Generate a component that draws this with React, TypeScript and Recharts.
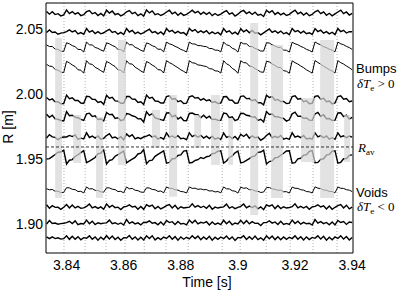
import { LineChart, Line, XAxis, YAxis, ReferenceArea, ReferenceLine } from 'recharts';

// sample times [s]
const time = [
  3.833, 3.834, 3.835, 3.836, 3.837, 3.838, 3.839, 3.84, 3.841, 3.842,
  3.843, 3.844, 3.845, 3.846, 3.847, 3.848, 3.849, 3.85, 3.851, 3.852,
  3.853, 3.854, 3.855, 3.856, 3.857, 3.858, 3.859, 3.86, 3.861, 3.862,
  3.863, 3.864, 3.865, 3.866, 3.867, 3.868, 3.869, 3.87, 3.871, 3.872,
  3.873, 3.874, 3.875, 3.876, 3.877, 3.878, 3.879, 3.88, 3.881, 3.882,
  3.883, 3.884, 3.885, 3.886, 3.887, 3.888, 3.889, 3.89, 3.891, 3.892,
  3.893, 3.894, 3.895, 3.896, 3.897, 3.898, 3.899, 3.9, 3.901, 3.902,
  3.903, 3.904, 3.905, 3.906, 3.907, 3.908, 3.909, 3.91, 3.911, 3.912,
  3.913, 3.914, 3.915, 3.916, 3.917, 3.918, 3.919, 3.92, 3.921, 3.922,
  3.923, 3.924, 3.925, 3.926, 3.927, 3.928, 3.929, 3.93, 3.931, 3.932,
  3.933, 3.934, 3.935, 3.936, 3.937, 3.938, 3.939, 3.94,
];

// channel positions R [m], outermost first
const r1 = [
  2.0639, 2.0618, 2.0637, 2.0615, 2.0622, 2.0605, 2.0613, 2.065, 2.0622, 2.0638,
  2.0619, 2.063, 2.0607, 2.0614, 2.0637, 2.0646, 2.0621, 2.063, 2.0607, 2.0624,
  2.0605, 2.0649, 2.0627, 2.0642, 2.0615, 2.0623, 2.0605, 2.0616, 2.0636, 2.0646,
  2.0622, 2.0632, 2.0607, 2.0621, 2.0603, 2.065, 2.0628, 2.0643, 2.0614, 2.0622,
  2.0608, 2.0619, 2.0635, 2.0648, 2.0621, 2.0634, 2.061, 2.0627, 2.0609, 2.0617,
  2.0631, 2.0649, 2.0628, 2.064, 2.0617, 2.0633, 2.0617, 2.0632, 2.0607, 2.0623,
  2.0608, 2.0619, 2.0633, 2.0645, 2.0618, 2.0628, 2.0604, 2.0618, 2.0637, 2.0647,
  2.0623, 2.0635, 2.0616, 2.0634, 2.061, 2.0617, 2.06, 2.0648, 2.063, 2.0645,
  2.0616, 2.0631, 2.0613, 2.0626, 2.0608, 2.0617, 2.0634, 2.0649, 2.0621, 2.0633,
  2.0611, 2.0628, 2.0606, 2.0616, 2.0636, 2.0648, 2.0622, 2.0636, 2.061, 2.0625,
  2.0605, 2.062, 2.0635, 2.0649, 2.0622, 2.0635, 2.0611, 2.0624,
];
const r2 = [
  2.0477, 2.0496, 2.0477, 2.0481, 2.0464, 2.0472, 2.0476, 2.0484, 2.0497, 2.0481,
  2.0492, 2.0466, 2.0476, 2.0463, 2.0508, 2.048, 2.0492, 2.0469, 2.0483, 2.0467,
  2.0475, 2.0489, 2.0501, 2.0477, 2.0485, 2.0464, 2.0478, 2.0462, 2.0508, 2.0481,
  2.0494, 2.0469, 2.048, 2.0465, 2.0476, 2.049, 2.0502, 2.0476, 2.0484, 2.0467,
  2.0481, 2.0461, 2.0507, 2.0483, 2.0493, 2.0472, 2.0486, 2.0471, 2.0476, 2.0457,
  2.0508, 2.0487, 2.0499, 2.0476, 2.0489, 2.0476, 2.0491, 2.0466, 2.0482, 2.0467,
  2.0478, 2.0459, 2.0507, 2.048, 2.049, 2.0466, 2.048, 2.0463, 2.0506, 2.0482,
  2.0497, 2.0475, 2.0493, 2.0472, 2.0476, 2.0459, 2.0474, 2.0489, 2.0504, 2.0478,
  2.049, 2.0472, 2.0488, 2.0467, 2.0476, 2.046, 2.0508, 2.0483, 2.0492, 2.0473,
  2.0487, 2.0468, 2.0475, 2.0462, 2.0507, 2.0484, 2.0495, 2.0472, 2.0484, 2.0467,
  2.0479, 2.0461, 2.0508, 2.0484, 2.0494, 2.0473, 2.0483, 2.0483,
];
const r3 = [
  2.0381, 2.0369, 2.0369, 2.0349, 2.0347, 2.0333, 2.0332, 2.0398, 2.039, 2.0376,
  2.0368, 2.0347, 2.0346, 2.0327, 2.0403, 2.0382, 2.0381, 2.0362, 2.0355, 2.0342,
  2.0333, 2.0397, 2.039, 2.0377, 2.0368, 2.0347, 2.0346, 2.0328, 2.0403, 2.0383,
  2.0383, 2.0363, 2.0354, 2.034, 2.0332, 2.0397, 2.0389, 2.0375, 2.0367, 2.0348,
  2.0348, 2.0328, 2.0403, 2.039, 2.0383, 2.037, 2.0361, 2.0347, 2.0339, 2.0327,
  2.0403, 2.0389, 2.0388, 2.0376, 2.0376, 2.037, 2.0368, 2.0354, 2.0353, 2.0341,
  2.0341, 2.0328, 2.0403, 2.0383, 2.0376, 2.0356, 2.0347, 2.0326, 2.0402, 2.039,
  2.039, 2.037, 2.0368, 2.0354, 2.0346, 2.0334, 2.0334, 2.0398, 2.0396, 2.0382,
  2.0374, 2.0362, 2.0362, 2.0342, 2.034, 2.0326, 2.0402, 2.039, 2.0383, 2.037,
  2.0361, 2.0347, 2.0339, 2.0327, 2.0404, 2.0391, 2.0382, 2.0368, 2.036, 2.0348,
  2.0341, 2.0328, 2.0403, 2.039, 2.0383, 2.037, 2.0361, 2.0347,
];
const r4 = [
  2.0232, 2.0218, 2.0216, 2.0192, 2.0188, 2.0172, 2.0169, 2.0255, 2.0243, 2.0227,
  2.0215, 2.019, 2.0187, 2.0164, 2.026, 2.0235, 2.0232, 2.0209, 2.0198, 2.0183,
  2.017, 2.0254, 2.0243, 2.0228, 2.0215, 2.019, 2.0187, 2.0165, 2.026, 2.0236,
  2.0234, 2.021, 2.0197, 2.0181, 2.0169, 2.0254, 2.0242, 2.0226, 2.0214, 2.0191,
  2.0189, 2.0165, 2.026, 2.0245, 2.0234, 2.0219, 2.0206, 2.019, 2.0178, 2.0164,
  2.026, 2.0244, 2.0241, 2.0227, 2.0225, 2.0219, 2.0215, 2.0199, 2.0196, 2.0182,
  2.018, 2.0165, 2.026, 2.0236, 2.0225, 2.0201, 2.0188, 2.0163, 2.0259, 2.0245,
  2.0243, 2.0219, 2.0215, 2.0199, 2.0187, 2.0173, 2.0171, 2.0255, 2.0251, 2.0235,
  2.0223, 2.0209, 2.0207, 2.0183, 2.0179, 2.0163, 2.0259, 2.0245, 2.0234, 2.0219,
  2.0206, 2.019, 2.0178, 2.0164, 2.0261, 2.0246, 2.0233, 2.0217, 2.0205, 2.0191,
  2.018, 2.0165, 2.026, 2.0245, 2.0234, 2.0219, 2.0206, 2.019,
];
const r5 = [
  1.9976, 1.9957, 1.9966, 1.9943, 1.9944, 1.9928, 1.993, 1.9995, 1.9968, 1.9975,
  1.9954, 1.9954, 1.9934, 1.9931, 1.9986, 1.9984, 1.9963, 1.9962, 1.9938, 1.9946,
  1.9924, 1.9994, 1.9971, 1.9978, 1.9951, 1.9949, 1.9932, 1.9932, 1.9985, 1.9984,
  1.9964, 1.9963, 1.9938, 1.9944, 1.9923, 1.9995, 1.9972, 1.9978, 1.995, 1.9948,
  1.9934, 1.9934, 1.9984, 1.999, 1.9963, 1.9968, 1.9944, 1.9952, 1.9931, 1.9933,
  1.9982, 1.999, 1.9972, 1.9976, 1.9956, 1.9968, 1.9952, 1.9959, 1.9938, 1.9945,
  1.993, 1.9934, 1.9983, 1.9984, 1.9957, 1.9956, 1.9932, 1.9934, 1.9986, 1.9989,
  1.9968, 1.9969, 1.9952, 1.996, 1.9936, 1.9937, 1.9921, 1.9994, 1.9977, 1.9984,
  1.9956, 1.9962, 1.9946, 1.9947, 1.993, 1.9933, 1.9984, 1.999, 1.9963, 1.9968,
  1.9944, 1.9952, 1.9929, 1.9932, 1.9985, 1.999, 1.9964, 1.997, 1.9944, 1.995,
  1.9928, 1.9935, 1.9984, 1.999, 1.9964, 1.9969, 1.9944, 1.995,
];
const r6 = [
  1.9848, 1.9824, 1.984, 1.9812, 1.9809, 1.98, 1.9797, 1.9869, 1.9837, 1.984,
  1.9826, 1.9821, 1.9808, 1.98, 1.9851, 1.9856, 1.983, 1.9836, 1.9807, 1.9811,
  1.9796, 1.9861, 1.9845, 1.9847, 1.9816, 1.9821, 1.9799, 1.9806, 1.9854, 1.9849,
  1.9836, 1.983, 1.9812, 1.9813, 1.9788, 1.9867, 1.9839, 1.9852, 1.9819, 1.9813,
  1.9806, 1.9801, 1.9858, 1.9859, 1.9828, 1.984, 1.9811, 1.9826, 1.98, 1.9798,
  1.9854, 1.9857, 1.9846, 1.9845, 1.9821, 1.984, 1.9819, 1.9833, 1.9807, 1.981,
  1.9802, 1.9801, 1.9857, 1.9853, 1.9822, 1.9828, 1.9799, 1.9808, 1.9855, 1.9854,
  1.984, 1.9836, 1.9826, 1.9829, 1.9801, 1.9809, 1.9788, 1.9868, 1.9846, 1.9849,
  1.9828, 1.9829, 1.982, 1.9816, 1.9795, 1.9805, 1.9851, 1.9864, 1.9832, 1.9833,
  1.9816, 1.9819, 1.9803, 1.9801, 1.985, 1.9862, 1.9831, 1.9844, 1.9813, 1.9815,
  1.98, 1.9802, 1.9858, 1.9859, 1.9829, 1.9841, 1.9811, 1.9824,
];
const r7 = [
  1.9665, 1.9691, 1.9674, 1.967, 1.9652, 1.9667, 1.9673, 1.9673, 1.9685, 1.9676,
  1.9689, 1.9655, 1.9664, 1.9658, 1.9705, 1.9669, 1.968, 1.9664, 1.968, 1.9656,
  1.9663, 1.9684, 1.9698, 1.9666, 1.9673, 1.9659, 1.9675, 1.9651, 1.9696, 1.9676,
  1.9691, 1.9658, 1.9668, 1.966, 1.9673, 1.9679, 1.969, 1.9671, 1.9681, 1.9656,
  1.9669, 1.9656, 1.9704, 1.9672, 1.9681, 1.9667, 1.9683, 1.966, 1.9664, 1.9652,
  1.9705, 1.9676, 1.9687, 1.9671, 1.9686, 1.9665, 1.9679, 1.9661, 1.9679, 1.9656,
  1.9666, 1.9654, 1.9704, 1.9669, 1.9678, 1.9661, 1.9677, 1.9652, 1.9694, 1.9677,
  1.9694, 1.9664, 1.9681, 1.9667, 1.9673, 1.9648, 1.9662, 1.9684, 1.9701, 1.9667,
  1.9678, 1.9667, 1.9685, 1.9656, 1.9664, 1.9655, 1.9705, 1.9672, 1.968, 1.9668,
  1.9684, 1.9657, 1.9663, 1.9657, 1.9704, 1.9673, 1.9683, 1.9667, 1.9681, 1.9656,
  1.9667, 1.9656, 1.9705, 1.9673, 1.9682, 1.9668, 1.968, 1.9672,
];
const r8 = [
  1.9503, 1.9506, 1.9522, 1.9538, 1.9555, 1.9557, 1.9571, 1.9465, 1.9494, 1.9499,
  1.9523, 1.9536, 1.9552, 1.9568, 1.9475, 1.9487, 1.9501, 1.9515, 1.9544, 1.9549,
  1.9573, 1.9466, 1.9492, 1.9498, 1.9525, 1.9537, 1.9551, 1.9565, 1.9474, 1.9489,
  1.9503, 1.9516, 1.9542, 1.9548, 1.9575, 1.9467, 1.9491, 1.9495, 1.9524, 1.9539,
  1.9553, 1.9566, 1.9472, 1.9478, 1.9505, 1.9507, 1.9531, 1.9535, 1.9564, 1.9569,
  1.9473, 1.9476, 1.9492, 1.9498, 1.9515, 1.9507, 1.9521, 1.9525, 1.9544, 1.9549,
  1.9563, 1.9566, 1.9472, 1.9488, 1.9515, 1.9527, 1.9551, 1.9565, 1.9474, 1.9479,
  1.9493, 1.9506, 1.9522, 1.9528, 1.9555, 1.9557, 1.9571, 1.9465, 1.9484, 1.9489,
  1.9513, 1.9516, 1.9532, 1.9548, 1.9565, 1.9567, 1.9471, 1.9475, 1.9504, 1.9509,
  1.9533, 1.9536, 1.9562, 1.9568, 1.9475, 1.9477, 1.9501, 1.9505, 1.9534, 1.9539,
  1.9563, 1.9566, 1.9472, 1.9478, 1.9505, 1.9507, 1.9531, 1.9535,
];
const r9 = [
  1.9275, 1.9266, 1.9269, 1.9255, 1.9256, 1.9245, 1.9247, 1.9283, 1.9281, 1.927,
  1.9268, 1.9253, 1.9255, 1.9242, 1.9288, 1.9273, 1.9275, 1.9262, 1.9261, 1.9251,
  1.9248, 1.9282, 1.9281, 1.9271, 1.9268, 1.9253, 1.9255, 1.9243, 1.9288, 1.9274,
  1.9277, 1.9263, 1.926, 1.9249, 1.9247, 1.9282, 1.928, 1.9269, 1.9267, 1.9254,
  1.9257, 1.9243, 1.9288, 1.9278, 1.9277, 1.9267, 1.9264, 1.9253, 1.9251, 1.9242,
  1.9288, 1.9277, 1.9279, 1.927, 1.9273, 1.9267, 1.9268, 1.9257, 1.9259, 1.925,
  1.9253, 1.9243, 1.9288, 1.9274, 1.9273, 1.9259, 1.9256, 1.9241, 1.9287, 1.9278,
  1.9281, 1.9267, 1.9268, 1.9257, 1.9255, 1.9246, 1.9249, 1.9283, 1.9284, 1.9273,
  1.9271, 1.9262, 1.9265, 1.9251, 1.9252, 1.9241, 1.9287, 1.9278, 1.9277, 1.9267,
  1.9264, 1.9253, 1.9251, 1.9242, 1.9289, 1.9279, 1.9276, 1.9265, 1.9263, 1.9254,
  1.9253, 1.9243, 1.9288, 1.9278, 1.9277, 1.9267, 1.9264, 1.9253,
];
const r10 = [
  1.9151, 1.9125, 1.9144, 1.9131, 1.9133, 1.9116, 1.9132, 1.9153, 1.9126, 1.915,
  1.9127, 1.9139, 1.9124, 1.9127, 1.9139, 1.9157, 1.9127, 1.9137, 1.9123, 1.9135,
  1.9117, 1.9158, 1.9132, 1.9147, 1.9129, 1.9133, 1.9115, 1.9135, 1.9139, 1.915,
  1.9134, 1.914, 1.9116, 1.9138, 1.9116, 1.9152, 1.9139, 1.9149, 1.9121, 1.9138,
  1.9119, 1.9131, 1.9144, 1.9152, 1.9126, 1.9147, 1.9119, 1.9136, 1.9127, 1.913,
  1.9133, 1.9159, 1.9133, 1.9145, 1.913, 1.914, 1.9124, 1.9147, 1.9117, 1.9133,
  1.9126, 1.9132, 1.9135, 1.9156, 1.9125, 1.9136, 1.9121, 1.9131, 1.9139, 1.9157,
  1.9128, 1.9141, 1.913, 1.9143, 1.912, 1.9135, 1.9113, 1.915, 1.914, 1.915,
  1.9122, 1.9145, 1.9122, 1.9136, 1.9126, 1.913, 1.9136, 1.9159, 1.9127, 1.9139,
  1.9126, 1.9138, 1.9117, 1.9135, 1.9139, 1.9151, 1.9134, 1.9143, 1.9118, 1.9141,
  1.9117, 1.9132, 1.9144, 1.9153, 1.9127, 1.9148, 1.912, 1.9133,
];
const r11 = [
  1.9003, 1.903, 1.9007, 1.9011, 1.9002, 1.9006, 1.9009, 1.9014, 1.9024, 1.9007,
  1.9027, 1.8998, 1.9007, 1.9003, 1.9033, 1.9005, 1.9025, 1.8999, 1.9013, 1.9005,
  1.901, 1.9012, 1.9033, 1.9005, 1.9013, 1.9001, 1.9011, 1.8995, 1.9038, 1.9008,
  1.902, 1.9004, 1.9012, 1.8996, 1.9016, 1.9015, 1.9027, 1.9009, 1.9014, 1.8997,
  1.9019, 1.8996, 1.903, 1.9014, 1.9021, 1.8999, 1.9022, 1.9003, 1.9008, 1.8997,
  1.9033, 1.9011, 1.9031, 1.9004, 1.9016, 1.901, 1.9021, 1.8995, 1.9019, 1.9,
  1.901, 1.8999, 1.9032, 1.9005, 1.9024, 1.8997, 1.9011, 1.9003, 1.9031, 1.9006,
  1.9029, 1.9004, 1.9021, 1.9008, 1.9009, 1.8991, 1.9014, 1.9014, 1.9028, 1.901,
  1.9019, 1.9, 1.9024, 1.9, 1.9008, 1.9, 1.9033, 1.9007, 1.9025, 1.9002,
  1.9016, 1.9005, 1.9009, 1.8995, 1.9037, 1.901, 1.9021, 1.9006, 1.9015, 1.8997,
  1.9018, 1.8996, 1.9031, 1.9015, 1.9022, 1.9, 1.9019, 1.9015,
];
const r12 = [
  1.8904, 1.889, 1.8904, 1.8891, 1.8897, 1.8887, 1.889, 1.8912, 1.8885, 1.8908,
  1.8886, 1.8906, 1.8882, 1.8898, 1.8894, 1.8912, 1.8886, 1.8904, 1.8878, 1.8902,
  1.8884, 1.8913, 1.8888, 1.891, 1.8884, 1.8901, 1.8878, 1.8898, 1.8895, 1.8914,
  1.8885, 1.8904, 1.888, 1.8901, 1.888, 1.8912, 1.8891, 1.8913, 1.8881, 1.8898,
  1.8883, 1.8903, 1.8892, 1.8912, 1.8886, 1.8906, 1.8879, 1.8903, 1.8886, 1.8901,
  1.8888, 1.8913, 1.8891, 1.891, 1.8882, 1.8903, 1.8886, 1.8908, 1.8878, 1.8901,
  1.8885, 1.8903, 1.889, 1.8911, 1.8885, 1.8904, 1.8877, 1.89, 1.8896, 1.8913,
  1.8884, 1.8905, 1.8885, 1.891, 1.8883, 1.8897, 1.8879, 1.8912, 1.8889, 1.8911,
  1.8883, 1.8905, 1.8882, 1.8904, 1.8885, 1.8901, 1.8891, 1.8913, 1.8886, 1.8905,
  1.888, 1.8904, 1.8883, 1.89, 1.8893, 1.8912, 1.8887, 1.8908, 1.8879, 1.8901,
  1.8882, 1.8904, 1.8892, 1.8913, 1.8887, 1.8907, 1.888, 1.89,
];

const channels = [r1, r2, r3, r4, r5, r6, r7, r8, r9, r10, r11, r12];
const thinChannels = [2, 3, 8];

// sawtooth crash times (dotted lines)
const crashTimes = [
  3.8391, 3.8465, 3.8538, 3.8605, 3.8672, 3.8748, 3.8826, 3.8945, 3.9008, 3.9099,
  3.9183, 3.9263, 3.9347,
];

// shaded bump / void windows
const bandStart = [3.836, 3.8423, 3.8503, 3.858, 3.8699, 3.8759, 3.8847, 3.8906, 3.8966, 3.9043, 3.9116, 3.9221, 3.9288, 3.9372];
const bandEnd = [3.8384, 3.8451, 3.8528, 3.8608, 3.8727, 3.8787, 3.8871, 3.8937, 3.8983, 3.9071, 3.9158, 3.927, 3.9337, 3.9393];
const bandLow = [1.9204, 1.9473, 1.9204, 1.9458, 1.9588, 1.9212, 1.9588, 1.9458, 1.9458, 1.9073, 1.9204, 1.9481, 1.9204, 1.9481];
const bandHigh = [2.0435, 1.9842, 1.9827, 2.0419, 1.9881, 1.9996, 1.9842, 1.9996, 1.9819, 2.055, 2.0381, 1.9973, 2.0419, 1.9842];

const xTicks = [3.84, 3.86, 3.88, 3.9, 3.92, 3.94];
const yTicks = [1.9, 1.95, 2.0, 2.05];
const rAv = 1.9596;

const xDomain = [3.8328, 3.9403];
const yDomain = [1.878, 2.0704];

const FONT = '"Liberation Sans", Arial, Helvetica, sans-serif';
const MATH = '"Liberation Serif", "DejaVu Serif", serif';

export default function App() {
  const rows = time.map((t, i) => {
    const row: Record<string, number> = { t };
    channels.forEach((ch, k) => {
      row[`r${k + 1}`] = ch[i];
    });
    return row;
  });

  return (
    <div
      style={{
        position: 'fixed',
        left: 0,
        top: 0,
        width: 399,
        height: 291,
        background: '#fff',
        fontFamily: FONT,
      }}
    >
      <LineChart width={399} height={291} data={rows} margin={{ top: 3, right: 46, bottom: 0, left: 0 }}>
        <XAxis
          dataKey="t"
          type="number"
          domain={xDomain}
          allowDataOverflow
          ticks={xTicks}
          interval={0}
          tickFormatter={(v: number) => String(v)}
          axisLine={false}
          tickLine={false}
          tickSize={0}
          tickMargin={7}
          height={38}
          tick={{ fill: '#000', fontSize: 14 }}
        />
        <YAxis
          type="number"
          domain={yDomain}
          allowDataOverflow
          ticks={yTicks}
          interval={0}
          tickFormatter={(v: number) => v.toFixed(2)}
          axisLine={false}
          tickLine={false}
          tickSize={0}
          tickMargin={3}
          width={46}
          tick={{ fill: '#000', fontSize: 14 }}
        />
        {crashTimes.map((x) => (
          <ReferenceLine
            key={`crash-${x}`}
            x={x}
            stroke="#9a9a9a"
            strokeDasharray="1 2"
            strokeWidth={0.8}
            zIndex={50}
          />
        ))}
        {channels.map((_, k) => (
          <Line
            key={`r${k + 1}`}
            dataKey={`r${k + 1}`}
            type="linear"
            stroke="#000"
            strokeWidth={thinChannels.includes(k) ? 1.0 : 1.4}
            dot={false}
            activeDot={false}
            isAnimationActive={false}
          />
        ))}
        {bandStart.map((x1, i) => (
          <ReferenceArea
            key={`band-${i}`}
            x1={x1}
            x2={bandEnd[i]}
            y1={bandLow[i]}
            y2={bandHigh[i]}
            fill="#d6d6d6"
            fillOpacity={0.7}
            stroke="none"
            zIndex={450}
          />
        ))}
        <ReferenceLine y={rAv} stroke="#000" strokeDasharray="3 2" strokeWidth={0.8} zIndex={460} />
        <ReferenceArea
          x1={xDomain[0]}
          x2={xDomain[1]}
          y1={yDomain[0]}
          y2={yDomain[1]}
          fill="none"
          stroke="#000"
          strokeWidth={1}
          zIndex={470}
        />
      </LineChart>
      <svg
        width={399}
        height={291}
        style={{ position: 'absolute', left: 0, top: 0, pointerEvents: 'none' }}
      >
        <text x={13} y={127} transform="rotate(-90 13 127)" textAnchor="middle" fontSize={14} fill="#000" fontFamily={FONT}>
          R [m]
        </text>
        <text x={207} y={287} textAnchor="middle" fontSize={14} fill="#000" fontFamily={FONT}>
          Time [s]
        </text>
        <text x={356} y={73} fontSize={13} fill="#000" fontFamily={FONT}>
          Bumps
        </text>
        <text x={357} y={88} fontSize={13} fill="#000" fontFamily={MATH}>
          <tspan fontStyle="italic">δT</tspan>
          <tspan fontSize={9} dy={3}>e</tspan>
          <tspan dy={-3}> &gt; 0</tspan>
        </text>
        <text x={358} y={152} fontSize={13} fill="#000" fontFamily={MATH}>
          <tspan fontStyle="italic">R</tspan>
          <tspan fontSize={9} dy={3}>av</tspan>
        </text>
        <text x={356} y={197} fontSize={13} fill="#000" fontFamily={FONT}>
          Voids
        </text>
        <text x={357} y={211} fontSize={13} fill="#000" fontFamily={MATH}>
          <tspan fontStyle="italic">δT</tspan>
          <tspan fontSize={9} dy={3}>e</tspan>
          <tspan dy={-3}> &lt; 0</tspan>
        </text>
      </svg>
    </div>
  );
}
